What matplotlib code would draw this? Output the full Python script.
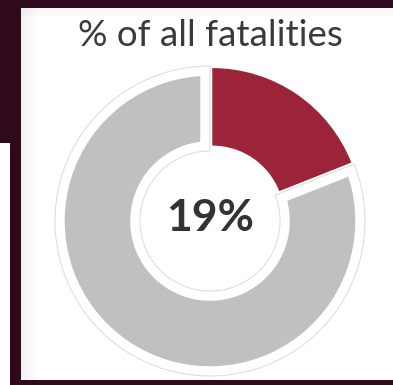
import matplotlib.pyplot as plt
from matplotlib.patches import Rectangle

# share of all fatalities vs the rest
share = 19
values = [share, 100 - share]
title = "% of all fatalities"

red = "#9c2438"
grey = "#bfc0c2"
maroon = "#2e0a1c"
ink = "#333333"

W, H = 393, 385
fig = plt.figure(figsize=(W / 100, H / 100), dpi=100)
fig.patch.set_facecolor("white")

# donut axes: 155 px == 1 data unit, centre at (210, 221) px
cx, cy, R = 210, 221, 155
half = 180
ax = fig.add_axes([(cx - half) / W, (H - cy - half) / H, 2 * half / W, 2 * half / H])
ax.set_axis_off()

# grey slice with a thick white border
base, _ = ax.pie(values, startangle=90, counterclock=False, radius=1.0,
                 wedgeprops=dict(width=0.548, edgecolor="white", linewidth=14))
base[0].set_visible(False)
base[1].set_facecolor(grey)

# thin outline around the grey slice
outl, _ = ax.pie(values, startangle=90, counterclock=False, radius=1.0,
                 wedgeprops=dict(width=0.548, facecolor="none", edgecolor="#dadada", linewidth=0.7))
outl[0].set_visible(False)

# red slice, pulled out a little
hi, _ = ax.pie(values, startangle=90, counterclock=False, radius=0.965,
               explode=[0.026, 0], wedgeprops=dict(width=0.5, linewidth=0))
hi[0].set_facecolor(red)
hi[1].set_visible(False)

lim = half / R
ax.set_xlim(-lim, lim)
ax.set_ylim(-lim, lim)

ax.text(0, 0.02, f"{share}%", ha="center", va="center", fontsize=32,
        fontweight="bold", color=ink, family="Lato")

fig.text(210 / W, 1 - 36 / H, title, ha="center", va="center",
         fontsize=26.5, color="#3a3a3a", family="Lato")

# dark frame around the white panel
def frame(x0, y0, x1, y1, color=maroon, alpha=1.0):
    fig.patches.append(Rectangle((x0 / W, 1 - y1 / H), (x1 - x0) / W, (y1 - y0) / H,
                                 transform=fig.transFigure, facecolor=color,
                                 edgecolor="none", alpha=alpha, zorder=5))

# soft shadow along the panel's left and top edges
for i in range(8):
    frame(21 + i * 2, 8, 23 + i * 2, 380, color="#000000", alpha=0.05 * (1 - i / 8))
for i in range(5):
    frame(21, 8 + i * 2, W, 10 + i * 2, color="#000000", alpha=0.03 * (1 - i / 5))

frame(0, 0, W, 8)
frame(0, 0, 21, 143)
frame(10, 143, 21, H)
frame(10, 380, W, H)

fig.savefig("out.png", dpi=100)
